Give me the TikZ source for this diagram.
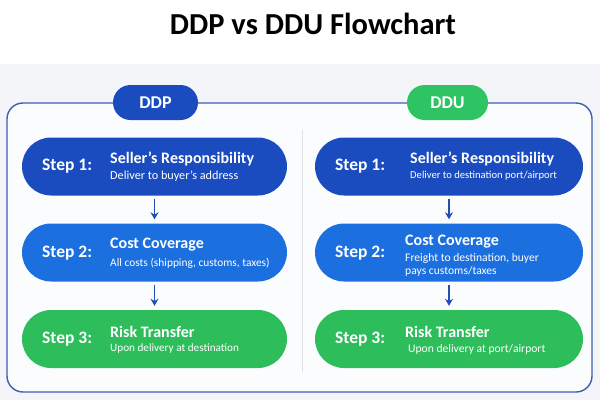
\documentclass[tikz,border=0pt]{standalone}
\usepackage{fontspec}
\setmainfont{Carlito}
\usetikzlibrary{shapes.misc,arrows.meta}
\definecolor{cone}{HTML}{1A4CC0}
\definecolor{ctwo}{HTML}{1C6FDF}
\definecolor{cthree}{HTML}{2DBD5B}
\definecolor{cddu}{HTML}{2EC463}
\definecolor{cframe}{HTML}{3D5DB8}
\definecolor{carrow}{HTML}{1F4FB5}
\definecolor{cbg}{HTML}{F3F5F8}
\definecolor{cpanel}{HTML}{FBFCFE}
\definecolor{cdiv}{HTML}{DDE1E8}
\tikzset{
  stepbox/.style={rounded rectangle, draw=none, minimum height=58pt, inner sep=0pt},
  pill/.style={rounded rectangle, draw=none, minimum width=85pt, minimum height=35pt, inner sep=0pt, text=white, font=\fontsize{18}{20}\selectfont\bfseries},
  steplbl/.style={anchor=west, text=white, inner sep=0pt, font=\fontsize{17.5}{19}\selectfont\bfseries},
  head/.style={anchor=west, text=white, inner sep=0pt, font=\fontsize{16}{18}\selectfont\bfseries},
  sub/.style={anchor=west, text=white, inner sep=0pt, font=\fontsize{11.6}{13}\selectfont, align=left},
  arr/.style={draw=carrow, line width=1.6pt, -{Stealth[length=7pt,width=8pt]}, shorten <=3pt, shorten >=4pt}
}
\begin{document}
\begin{tikzpicture}[x=1pt,y=-1pt]
\useasboundingbox (0,0) rectangle (600,400);
\fill[white] (0,0) rectangle (600,400);
\fill[cbg] (0,64) rectangle (600,400);
\node[font=\fontsize{30.5}{33}\selectfont\bfseries, inner sep=0pt] (title) at (313,24) {DDP vs DDU Flowchart};
\draw[cframe, line width=1.4pt, fill=cpanel, rounded corners=16pt] (7,103) rectangle (592,392);
\draw[cdiv, line width=1pt] (302,130) -- (302,372);
\node[pill, fill=cone] (ddp) at (155.5,102.5) {DDP};
\node[pill, fill=cddu, minimum width=81pt] (ddu) at (447.5,102.5) {DDU};
% left column
\node[stepbox, fill=cone, minimum width=265pt] (l1) at (154.5,166.5) {};
\node[stepbox, fill=ctwo, minimum width=265pt] (l2) at (154.5,252.5) {};
\node[stepbox, fill=cthree, minimum width=265pt] (l3) at (154.5,339) {};
% right column
\node[stepbox, fill=cone, minimum width=268pt] (r1) at (449,166.5) {};
\node[stepbox, fill=ctwo, minimum width=268pt] (r2) at (449,252.5) {};
\node[stepbox, fill=cthree, minimum width=268pt] (r3) at (449,339) {};
% left texts
\node[steplbl] (l1s) at (42,166) {Step 1:};
\node[head] (l1h) at (110,159) {Seller’s Responsibility};
\node[sub, font=\fontsize{12.2}{14}\selectfont] (l1t) at (110,176) {Deliver to buyer’s address};
\node[steplbl] (l2s) at (42,253) {Step 2:};
\node[head] (l2h) at (110,245) {Cost Coverage};
\node[sub, font=\fontsize{11.4}{13}\selectfont] (l2t) at (110,263) {All costs (shipping, customs, taxes)};
\node[steplbl] (l3s) at (42,339) {Step 3:};
\node[head] (l3h) at (110,332) {Risk Transfer};
\node[sub, font=\fontsize{11.2}{13}\selectfont] (l3t) at (110,349) {Upon delivery at destination};
% right texts
\node[steplbl] (r1s) at (335,166) {Step 1:};
\node[head] (r1h) at (410,159) {Seller’s Responsibility};
\node[sub, font=\fontsize{10.6}{12}\selectfont] (r1t) at (410,176) {Deliver to destination port/airport};
\node[steplbl] (r2s) at (335,253) {Step 2:};
\node[head] (r2h) at (405,242) {Cost Coverage};
\node[sub] (r2t) at (405,258) {Freight to destination, buyer};
\node[sub] (r2u) at (405,271) {pays customs/taxes};
\node[steplbl] (r3s) at (335,339) {Step 3:};
\node[head] (r3h) at (405,332) {Risk Transfer};
\node[sub] (r3t) at (408,349) {Upon delivery at port/airport};
% arrows
\draw[arr] (l1.south) -- (l2.north);
\draw[arr] (l2.south) -- (l3.north);
\draw[arr] (r1.south) -- (r2.north);
\draw[arr] (r2.south) -- (r3.north);
\end{tikzpicture}
\end{document}
